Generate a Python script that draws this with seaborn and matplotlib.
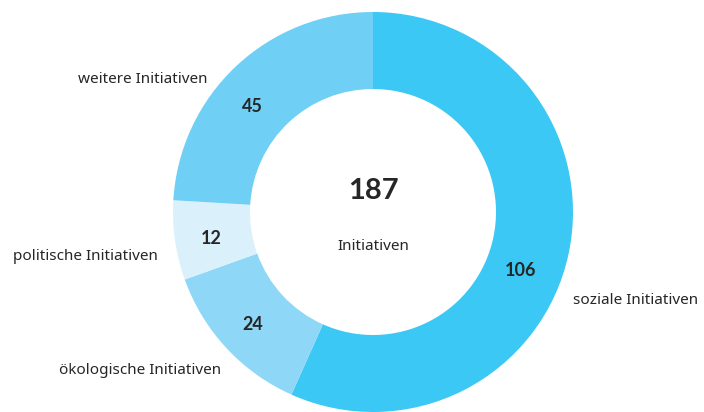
import matplotlib
matplotlib.use("Agg")
import matplotlib.pyplot as plt
import seaborn as sns

# Data
categories = ["soziale Initiativen", "ökologische Initiativen", "politische Initiativen", "weitere Initiativen"]
values = [106, 24, 12, 45]
colors = ["#3CC8F4", "#8FD7F7", "#DAF1FC", "#6FCFF5"]
total_label = "Initiativen"

sns.set_theme(style="white")
plt.rcParams["font.family"] = ["Noto Sans", "DejaVu Sans"]
bold_font = ["Lato", "DejaVu Sans"]

fig = plt.figure(figsize=(7.04, 4.12), dpi=100)
ax = fig.add_axes([0, 0, 1, 1])

cx, cy, r = 373, 200, 200
ax.pie(values, colors=colors, startangle=90, counterclock=False,
       center=(cx, cy), radius=r, frame=True,
       wedgeprops=dict(width=r * 0.385, linewidth=0))
ax.set_xlim(0, 704)
ax.set_ylim(0, 412)
ax.set_aspect("equal")
ax.axis("off")

txt = "#262626"
# value labels inside the ring
num_pos = [(521, 142), (253, 88), (211, 174), (252, 306)]
for v, (x, y) in zip(values, num_pos):
    ax.text(x, y, str(v), ha="center", va="center", fontsize=13,
            fontweight="bold", family=bold_font, color=txt)

# category labels
lab = dict(va="center", fontsize=11, color=txt)
ax.text(573, 111, categories[0], ha="left", **lab)
ax.text(140, 41, categories[1], ha="center", **lab)
ax.text(158, 156, categories[2], ha="right", **lab)
ax.text(143, 333, categories[3], ha="center", **lab)

# center text
ax.text(cx, 221, str(sum(values)), ha="center", va="center", fontsize=21,
        fontweight="bold", family=bold_font, color=txt)
ax.text(cx, 166, total_label, ha="center", va="center", fontsize=11, color=txt)

fig.savefig("out.png", dpi=100)
